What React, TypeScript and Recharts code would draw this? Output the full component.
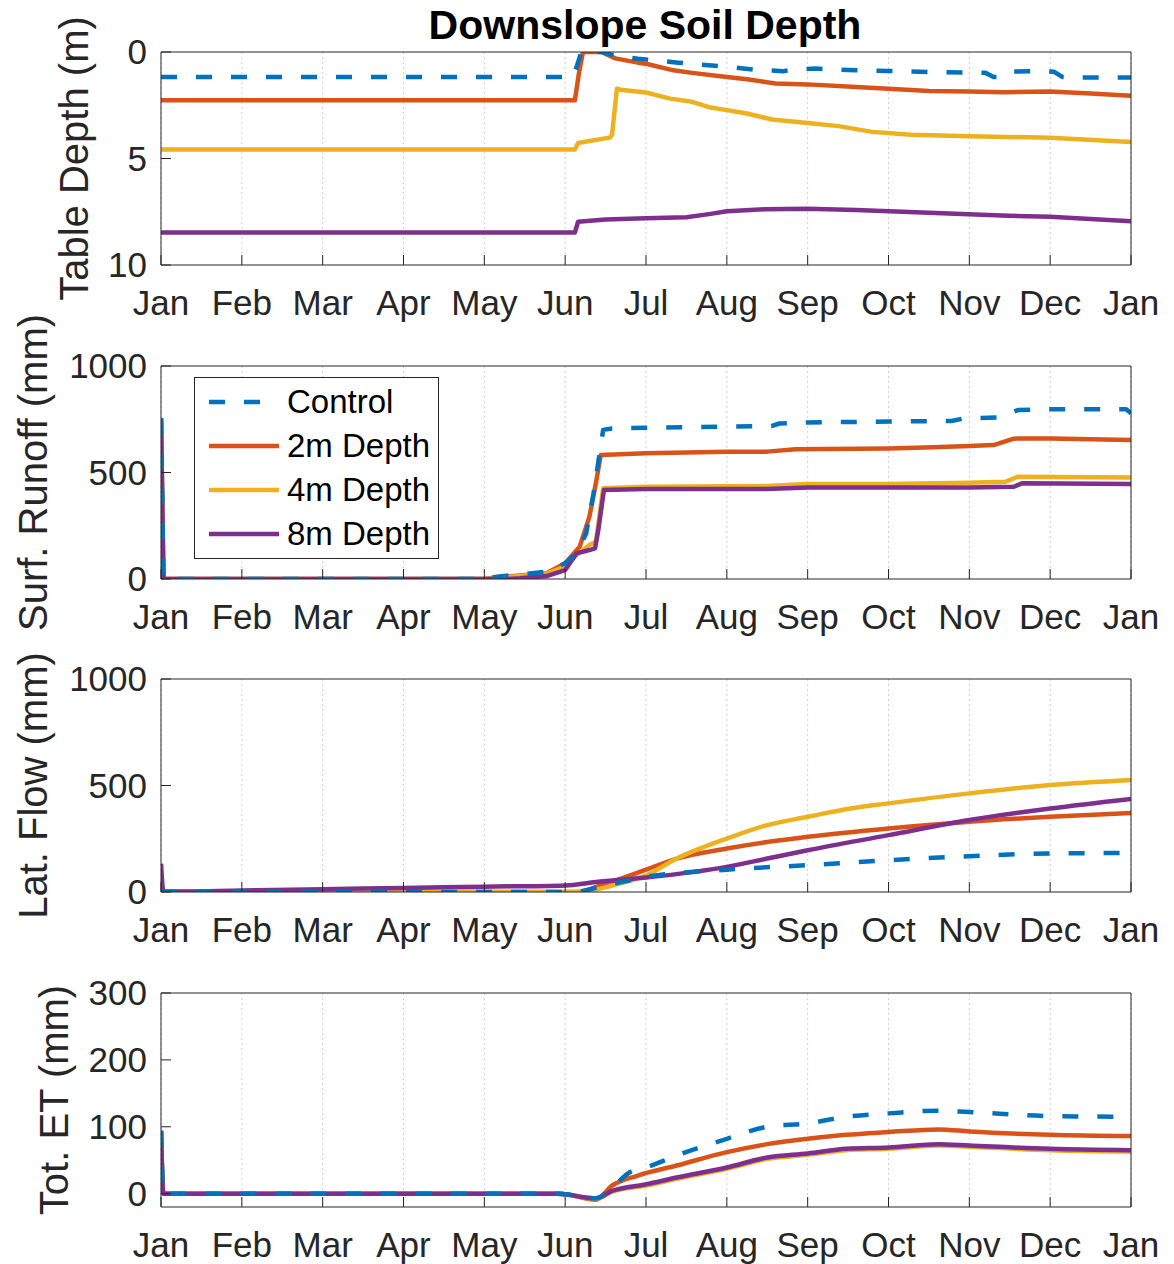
import { LineChart, Line, XAxis, YAxis, CartesianGrid, Legend } from 'recharts'

const FONT = '"Liberation Sans", Arial, Helvetica, sans-serif'
const INK = '#262626'

const MONTHS = ['Jan', 'Feb', 'Mar', 'Apr', 'May', 'Jun', 'Jul', 'Aug', 'Sep', 'Oct', 'Nov', 'Dec', 'Jan']
const MONTH_TICKS = MONTHS.map((_, i) => i)

// [month since Jan 1, value]
const depthControl = [
  [0, 1.17], [5.1, 1.17], [5.15, 0.6], [5.2, 0], [5.45, 0], [5.6, 0.15], [5.9, 0.32], [6.1, 0.38],
  [6.4, 0.5], [6.9, 0.66], [7.35, 0.83], [7.7, 0.9], [7.85, 0.82], [8.1, 0.78], [8.5, 0.84],
  [9, 0.89], [9.5, 0.94], [10, 0.96], [10.2, 0.98], [10.3, 1.17], [10.36, 1.18], [10.5, 0.92],
  [10.9, 0.9], [11.05, 0.93], [11.15, 1.17], [11.25, 1.2], [12, 1.2],
]
const depth2m = [
  [0, 2.27], [5.12, 2.27], [5.17, 1.0], [5.22, 0], [5.45, 0], [5.62, 0.3], [5.9, 0.5], [6.0, 0.55],
  [6.34, 0.86], [6.57, 0.98], [7.0, 1.17], [7.25, 1.28], [7.6, 1.48], [8.0, 1.52], [8.6, 1.64],
  [9.0, 1.72], [9.5, 1.83], [10, 1.86], [10.42, 1.89], [11, 1.86], [11.5, 1.95], [12, 2.05],
]
const depth4m = [
  [0, 4.58], [5.12, 4.58], [5.16, 4.27], [5.3, 4.18], [5.55, 4.02], [5.58, 3.9], [5.64, 1.72],
  [5.68, 1.77], [6.0, 1.9], [6.3, 2.19], [6.57, 2.34], [6.8, 2.61], [7.0, 2.73], [7.25, 2.89],
  [7.56, 3.17], [8.0, 3.33], [8.38, 3.48], [8.8, 3.75], [9.28, 3.88], [10, 3.95], [11, 4.03], [12, 4.23],
]
const depth8m = [
  [0, 8.48], [5.12, 8.48], [5.16, 7.97], [5.5, 7.86], [6.0, 7.81], [6.5, 7.76], [6.8, 7.6],
  [7.0, 7.48], [7.47, 7.38], [8.0, 7.36], [8.6, 7.42], [9.5, 7.55], [10.4, 7.68], [11, 7.73], [12, 7.95],
]

const runoffControl = [
  [0, 754], [0.03, 0], [4.0, 0], [4.16, 11], [4.77, 34], [5.0, 74], [5.14, 120], [5.26, 214],
  [5.35, 400], [5.43, 598], [5.47, 700], [5.58, 707], [6.0, 710], [7.0, 715], [7.55, 718],
  [7.65, 730], [8.0, 735], [9.0, 739], [9.78, 742], [9.93, 754], [10.36, 759], [10.6, 793],
  [11.0, 797], [11.94, 797], [12, 778],
]
const runoff2m = [
  [0, 754], [0.03, 0], [4.0, 0], [4.16, 8], [4.77, 27], [5.0, 74], [5.18, 152], [5.3, 293],
  [5.38, 450], [5.44, 582], [6.0, 590], [7.0, 598], [7.5, 598], [7.85, 609], [9.0, 613],
  [9.55, 618], [10.0, 624], [10.3, 629], [10.55, 659], [11, 660], [12, 653],
]
const runoff4m = [
  [0, 754], [0.03, 0], [4.0, 0], [4.2, 6], [4.77, 25], [5.0, 58], [5.14, 113], [5.3, 160],
  [5.38, 175], [5.47, 426], [6.0, 433], [7.5, 437], [8.0, 446], [9.0, 446], [10.0, 452],
  [10.45, 457], [10.6, 480], [12, 477],
]
const runoff8m = [
  [0, 754], [0.03, 0], [4.3, 0], [4.44, 3], [4.77, 14], [5.0, 42], [5.14, 120], [5.3, 136],
  [5.37, 144], [5.41, 230], [5.48, 418], [6.0, 422], [7.5, 422], [8.0, 429], [10.0, 430],
  [10.55, 433], [10.65, 449], [12, 446],
]

const latControl = [
  [0, 0], [5.1, 0], [5.43, 24], [6, 71], [7, 105], [8, 126], [9, 149], [10, 168], [11, 181], [12, 183],
]
const lat2m = [
  [0, 12], [0.03, 0], [5.15, 0], [5.43, 30], [6, 105], [6.38, 157], [7, 204], [7.5, 235], [8, 259],
  [9, 298], [10, 330], [11, 353], [12, 371],
]
const lat4m = [
  [0, 12], [0.03, 0], [5.1, 0], [5.43, 16], [5.67, 39], [6, 78], [6.38, 157], [7, 251], [7.5, 314],
  [8, 353], [8.53, 392], [9, 416], [10, 463], [11, 502], [12, 526],
]
const lat8m = [
  [0, 133], [0.03, 2], [1, 7], [2, 13], [3, 19], [4, 25], [5, 31], [5.38, 47], [6, 68], [7, 118],
  [7.5, 157], [8, 196], [9, 267], [10, 338], [11, 392], [12, 437],
]

const etControl = [
  [0, 94], [0.03, 0], [4.9, 0], [5.0, -1], [5.38, -7], [5.58, 9], [5.8, 32], [6, 39], [6.38, 57],
  [7, 82], [7.5, 100], [8, 105], [8.48, 115], [9, 120], [9.62, 124], [10, 122], [11, 116], [12, 115],
]
const et2m = [
  [0, 94], [0.03, 0], [4.9, 0], [5.0, -1], [5.38, -9], [5.58, 12], [5.9, 27], [6.38, 42], [7, 62],
  [7.5, 74], [8, 82], [8.48, 88], [9, 92], [9.62, 96], [10, 93], [11, 88], [12, 86],
]
const et4m = [
  [0, 94], [0.03, 0], [4.9, 0], [5.0, -1], [5.38, -8], [5.58, 3], [6, 12], [6.38, 22], [7, 37],
  [7.5, 52], [8, 58], [8.48, 65], [9, 67], [9.62, 72], [10, 70], [11, 65], [12, 63],
]
const et8m = [
  [0, 94], [0.03, 0], [4.9, 0], [5.0, -1], [5.38, -7], [5.58, 4], [6, 14], [6.38, 24], [7, 39],
  [7.5, 54], [8, 60], [8.48, 67], [9, 69], [9.62, 74], [10, 72], [11, 67], [12, 65],
]

const SERIES = [
  { name: 'Control', color: '#0072BD', dash: '16 19' },
  { name: '2m Depth', color: '#D95319', dash: undefined },
  { name: '4m Depth', color: '#EDB120', dash: undefined },
  { name: '8m Depth', color: '#7E2F8E', dash: undefined },
]
// draw order: control last so it sits on top
const DRAW_ORDER = [1, 2, 3, 0]

const toRows = (pts: number[][]) => pts.map(([m, v]) => ({ m, v }))

// top = page y of the chart svg, mt = space above the plot box (title / labels)
const PANELS = [
  {
    label: 'Table Depth (m)', labelX: 88, data: [depthControl, depth2m, depth4m, depth8m],
    domain: [0, 10], ticks: [0, 5, 10], reversed: true, curve: 'linear',
    top: 0, mt: 42, plotH: 213, title: 'Downslope Soil Depth', legend: false,
  },
  {
    label: 'Surf. Runoff (mm)', labelX: 47, data: [runoffControl, runoff2m, runoff4m, runoff8m],
    domain: [0, 1000], ticks: [0, 500, 1000], reversed: false, curve: 'linear',
    top: 300, mt: 56, plotH: 213, title: '', legend: true,
  },
  {
    label: 'Lat. Flow (mm)', labelX: 47, data: [latControl, lat2m, lat4m, lat8m],
    domain: [0, 1000], ticks: [0, 500, 1000], reversed: false, curve: 'monotone',
    top: 613, mt: 56, plotH: 213, title: '', legend: false,
  },
  {
    label: 'Tot. ET (mm)', labelX: 68, data: [etControl, et2m, et4m, et8m],
    domain: [-20, 300], ticks: [0, 100, 200, 300], reversed: false, curve: 'monotone',
    top: 927, mt: 56, plotH: 214, title: '', legend: false,
  },
]

function SideText({ px, py, text, rotate, bold, size, color }: {
  px: number; py: number; text: string; rotate?: boolean; bold?: boolean; size: number; color: string
}) {
  return (
    <text
      x={px}
      y={py}
      transform={rotate ? `rotate(-90 ${px} ${py})` : undefined}
      textAnchor="middle"
      fontFamily={FONT}
      fontSize={size}
      fontWeight={bold ? 'bold' : 'normal'}
      fill={color}
    >
      {text}
    </text>
  )
}

function LegendBox() {
  return (
    <div
      style={{
        width: 245, height: 182, boxSizing: 'border-box', border: `1px solid ${INK}`,
        background: '#fff', paddingTop: 2, fontFamily: FONT,
      }}
    >
      {SERIES.map((s) => (
        <div key={s.name} style={{ height: 44, display: 'flex', alignItems: 'center' }}>
          <svg width={92} height={44} style={{ flex: 'none' }}>
            <line x1={14} x2={84} y1={22} y2={22} stroke={s.color} strokeWidth={4.5} strokeDasharray={s.dash} />
          </svg>
          <span style={{ fontSize: 33, color: '#000', lineHeight: '44px', whiteSpace: 'nowrap' }}>{s.name}</span>
        </div>
      ))}
    </div>
  )
}

const tickStyle = { fontSize: 35, fill: INK, fontFamily: FONT }

function Panel({ p }: { p: (typeof PANELS)[number] }) {
  const height = p.mt + 10 + p.plotH + 60
  const plotTop = p.mt + 10
  return (
    <div style={{ position: 'absolute', left: 0, top: p.top, width: 1174, height }}>
      <LineChart width={1174} height={height} margin={{ top: p.mt, right: 33, bottom: 0, left: 61 }}>
        <CartesianGrid horizontal={false} xAxisId="b" yAxisId="l" stroke="#cfcfcf" strokeDasharray="2 3" />
        <XAxis
          xAxisId="b" dataKey="m" type="number" domain={[0, 12]} ticks={MONTH_TICKS} interval={0}
          allowDataOverflow height={60} tickSize={-10} tickMargin={35}
          tickFormatter={(v: number) => MONTHS[v]} tick={tickStyle}
          stroke={INK} axisLine={{ stroke: INK }} tickLine={{ stroke: INK }}
        />
        <XAxis
          xAxisId="t" orientation="top" dataKey="m" type="number" domain={[0, 12]} ticks={MONTH_TICKS}
          interval={0} allowDataOverflow height={10} tickSize={-10} tick={false}
          axisLine={{ stroke: INK }} tickLine={{ stroke: INK }}
          label={p.title ? <SideText px={645} py={39} text={p.title} bold size={41} color="#000" /> : undefined}
        />
        <YAxis
          yAxisId="l" type="number" domain={p.domain} ticks={p.ticks} reversed={p.reversed} interval={0}
          allowDataOverflow width={100} tickSize={-10} tickMargin={24} tick={tickStyle}
          axisLine={{ stroke: INK }} tickLine={{ stroke: INK }}
          label={<SideText px={p.labelX} py={plotTop + p.plotH / 2} text={p.label} rotate size={40} color={INK} />}
        />
        <YAxis
          yAxisId="r" orientation="right" type="number" domain={p.domain} ticks={p.ticks}
          reversed={p.reversed} interval={0} allowDataOverflow width={10} tickSize={-10} tick={false}
          axisLine={{ stroke: INK }} tickLine={{ stroke: INK }}
        />
        {DRAW_ORDER.map((i) => (
          <Line
            key={SERIES[i].name}
            name={SERIES[i].name}
            data={toRows(p.data[i])}
            dataKey="v"
            xAxisId="b"
            yAxisId="l"
            type={p.curve as 'linear' | 'monotone'}
            stroke={SERIES[i].color}
            strokeWidth={4.5}
            strokeDasharray={SERIES[i].dash}
            strokeLinejoin="round"
            dot={false}
            activeDot={false}
            isAnimationActive={false}
          />
        ))}
        {p.legend && (
          <Legend
            layout="vertical" align="center" verticalAlign="middle"
            content={() => <LegendBox />}
            wrapperStyle={{ left: 194, top: 377 - p.top, width: 245, height: 182 }}
          />
        )}
      </LineChart>
    </div>
  )
}

export default function App() {
  return (
    <div style={{ position: 'absolute', left: 0, top: 0, width: 1174, height: 1264, background: '#fff' }}>
      {PANELS.map((p) => (
        <Panel key={p.label} p={p} />
      ))}
    </div>
  )
}
